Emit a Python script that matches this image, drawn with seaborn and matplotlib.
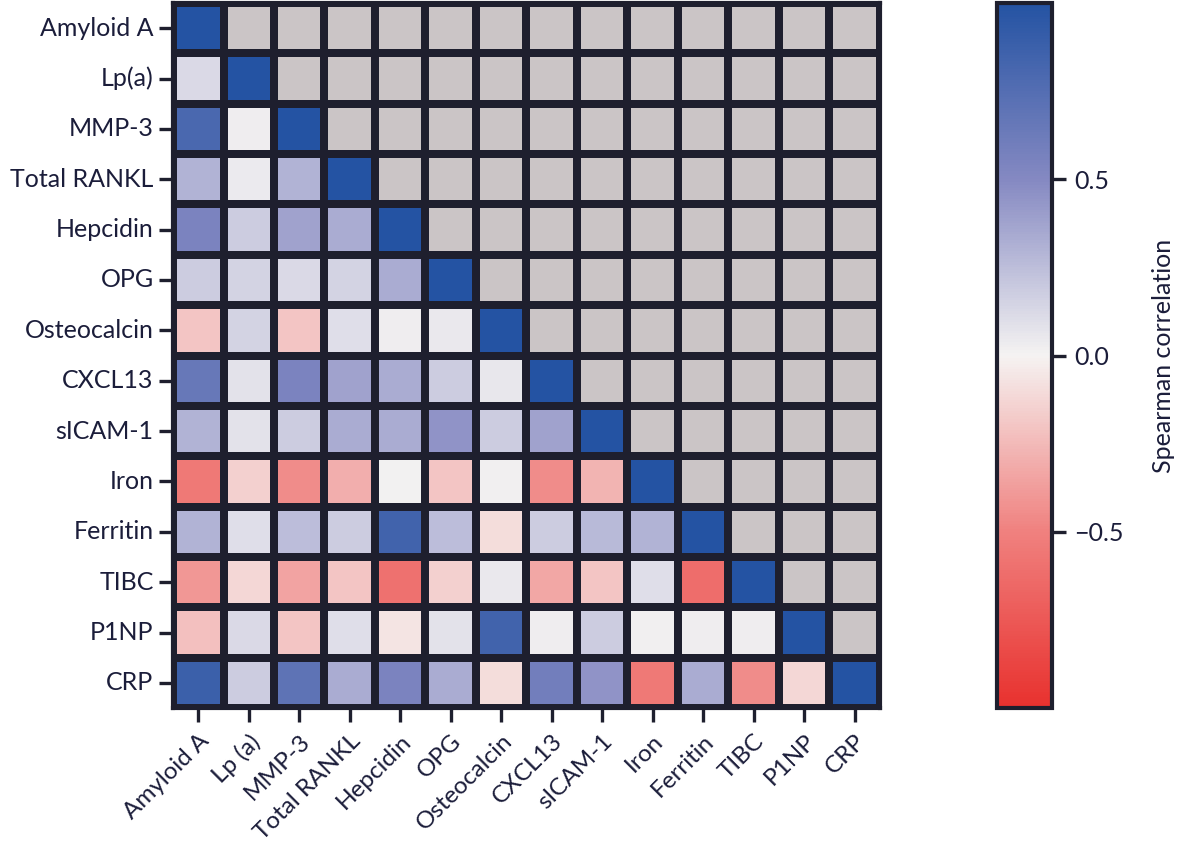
"""Spearman correlation heatmap of serum markers (lower triangle)."""

import matplotlib

matplotlib.use("Agg")
import matplotlib.pyplot as plt  # noqa: E402
import numpy as np  # noqa: E402
import pandas as pd  # noqa: E402
import seaborn as sns  # noqa: E402
from matplotlib.colors import LinearSegmentedColormap, ListedColormap  # noqa: E402

ROW_LABELS = ["Amyloid A", "Lp(a)", "MMP-3", "Total RANKL", "Hepcidin", "OPG",
              "Osteocalcin", "CXCL13", "sICAM-1", "Iron", "Ferritin", "TIBC",
              "P1NP", "CRP"]
COL_LABELS = ["Amyloid A", "Lp (a)", "MMP-3", "Total RANKL", "Hepcidin", "OPG",
              "Osteocalcin", "CXCL13", "sICAM-1", "Iron", "Ferritin", "TIBC",
              "P1NP", "CRP"]

# lower triangle, one list per row (diagonal included)
lp_a = [0.12, 1.0]
mmp3 = [0.80, 0.03, 1.0]
rankl = [0.30, 0.04, 0.30, 1.0]
hepcidin = [0.55, 0.18, 0.38, 0.33, 1.0]
opg = [0.18, 0.15, 0.12, 0.15, 0.33, 1.0]
osteocalcin = [-0.20, 0.15, -0.20, 0.10, 0.03, 0.05, 1.0]
cxcl13 = [0.65, 0.08, 0.55, 0.38, 0.33, 0.18, 0.06, 1.0]
sicam1 = [0.30, 0.08, 0.18, 0.33, 0.33, 0.45, 0.18, 0.38, 1.0]
iron = [-0.55, -0.15, -0.45, -0.30, 0.01, -0.20, 0.02, -0.45, -0.28, 1.0]
ferritin = [0.30, 0.10, 0.25, 0.18, 0.85, 0.25, -0.10, 0.18, 0.27, 0.30, 1.0]
tibc = [-0.40, -0.12, -0.35, -0.20, -0.60, -0.15, 0.05, -0.33, -0.20, 0.10,
        -0.62, 1.0]
p1np = [-0.22, 0.12, -0.20, 0.10, -0.07, 0.08, 0.85, 0.03, 0.18, 0.02, 0.03,
        0.03, 1.0]
crp = [0.88, 0.18, 0.70, 0.33, 0.55, 0.33, -0.10, 0.60, 0.45, -0.55, 0.33,
       -0.45, -0.12, 1.0]
ROWS = [[1.0], lp_a, mmp3, rankl, hepcidin, opg, osteocalcin, cxcl13, sicam1,
        iron, ferritin, tibc, p1np, crp]

n = len(ROW_LABELS)
corr = np.full((n, n), np.nan)
for i, row in enumerate(ROWS):
    corr[i, : len(row)] = row
df = pd.DataFrame(corr, index=ROW_LABELS, columns=COL_LABELS)

TEXT = "#1b1d3a"
GRID = "#1e1f2e"
FS = 18
cmap = LinearSegmentedColormap.from_list(
    "rwb",
    [(0.0, "#e8312e"), (0.25, "#f0817f"), (0.5, "#f5f3f2"),
     (0.75, "#8589c2"), (1.0, "#2453a3")],
)

sns.set_style("white")
plt.rcParams["font.family"] = ["Lato", "DejaVu Sans"]

fig = plt.figure(figsize=(11.81, 8.49), dpi=100)
ax = fig.add_axes([0.1465, 0.166, 0.5985, 0.8305])
cax = fig.add_axes([0.844, 0.166, 0.047, 0.8305])

upper = np.triu(np.ones((n, n), dtype=bool), k=1)
grey = pd.DataFrame(np.zeros((n, n)), index=ROW_LABELS, columns=COL_LABELS)
sns.heatmap(grey, mask=~upper, cmap=ListedColormap(["#cbc5c6"]), cbar=False,
            linewidths=4.5, linecolor=GRID, square=False, ax=ax)
sns.heatmap(df, mask=upper, cmap=cmap, vmin=-1, vmax=1, linewidths=4.5,
            linecolor=GRID, square=False, ax=ax, cbar_ax=cax,
            cbar_kws={"ticks": [-0.5, 0.0, 0.5]})

for side in ["left", "bottom", "top", "right"]:
    ax.spines[side].set_visible(True)
    ax.spines[side].set_color(GRID)
    ax.spines[side].set_linewidth(3)

ax.tick_params(axis="both", length=10, width=2.4, color=GRID, labelcolor=TEXT,
               labelsize=FS, pad=4, left=True, bottom=True)
ax.tick_params(axis="x", pad=6, labelsize=17.5)
ax.set_yticklabels(ROW_LABELS, rotation=0)
ax.set_xticklabels(COL_LABELS, rotation=45, ha="right", va="top",
                   rotation_mode="anchor")
ax.set_xlabel("")
ax.set_ylabel("")

cbar = ax.collections[-1].colorbar
cbar.outline.set_edgecolor(GRID)
cbar.outline.set_linewidth(3)
cbar.ax.set_yticklabels(["\u22120.5", "0.0", "0.5"])
cbar.ax.tick_params(length=10, width=2.4, color=GRID, labelcolor=TEXT,
                    labelsize=FS, pad=6)
cbar.set_label("Spearman correlation", color=TEXT, fontsize=FS, labelpad=20)

fig.savefig("out.png", dpi=100)
plt.close(fig)
